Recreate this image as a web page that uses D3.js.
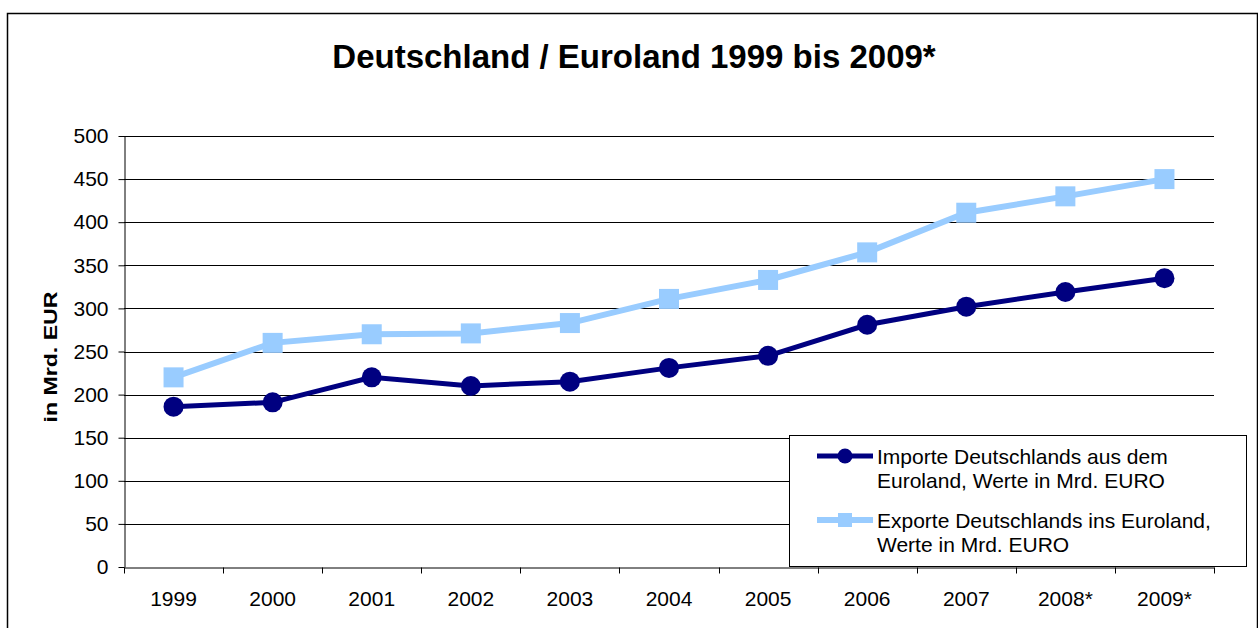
<!DOCTYPE html>
<meta charset="utf-8">
<style>
body { margin: 0; background: #fff; }
svg { display: block; font-family: "Liberation Sans", Arial, sans-serif; }
.axis text { font-size: 21px; fill: #000; }
.axis path, .axis line { stroke: #000; }
.grid line { stroke: #000; stroke-width: 1; }
</style>
<body>
<svg width="1258" height="628"></svg>
<script src="https://d3js.org/d3.v7.min.js"></script>
<script>
var years = ["1999", "2000", "2001", "2002", "2003", "2004", "2005", "2006", "2007", "2008*", "2009*"];
var importe = [186, 191, 220, 210, 215, 231, 245, 281, 302, 319, 335];
var exporte = [220, 260, 270, 271, 283, 311, 333, 365, 411, 430, 450];
var yTicks = [0, 50, 100, 150, 200, 250, 300, 350, 400, 450, 500];

var svg = d3.select("svg");
var margin = {left: 124, top: 136, right: 44, bottom: 61};
var width = 1258 - margin.left - margin.right,
    height = 628 - margin.top - margin.bottom;

// outer frame
svg.append("rect")
    .attr("x", 7.5).attr("y", 13.5)
    .attr("width", 1250).attr("height", 640)
    .attr("fill", "none").attr("stroke", "#000").attr("stroke-width", 1.5);

svg.append("text")
    .attr("x", 634).attr("y", 68)
    .attr("text-anchor", "middle")
    .style("font-size", "33px").style("font-weight", "bold")
    .text("Deutschland / Euroland 1999 bis 2009*");

var x = d3.scaleBand().domain(years).range([0, width]);
var y = d3.scaleLinear().domain([0, 500]).range([height, 0]);

var g = svg.append("g")
    .attr("transform", "translate(" + margin.left + "," + margin.top + ")");

// gridlines
g.append("g").attr("class", "grid")
  .selectAll("line").data(yTicks.filter(function(d) { return d > 0; }))
  .enter().append("line")
    .attr("x1", 0).attr("x2", width)
    .attr("y1", function(d) { return Math.round(y(d)) + 0.5; })
    .attr("y2", function(d) { return Math.round(y(d)) + 0.5; });

// y axis
var ya = g.append("g").attr("class", "axis")
    .attr("transform", "translate(0.5,0)")
    .call(d3.axisLeft(y).tickValues(yTicks).tickSize(6).tickSizeOuter(0).tickPadding(10));

// x axis, ticks on category boundaries
var xa = g.append("g").attr("class", "axis")
    .attr("transform", "translate(0," + (height + 0.5) + ")")
    .call(d3.axisBottom(x).tickSize(0).tickPadding(32));
xa.selectAll(".tick text").attr("dy", "0.32em");
xa.selectAll(".bound")
  .data(d3.range(years.length + 1))
  .enter().append("line")
    .attr("x1", function(i) { return Math.round(i * x.bandwidth()) + 0.5; })
    .attr("x2", function(i) { return Math.round(i * x.bandwidth()) + 0.5; })
    .attr("y1", 0).attr("y2", 6)
    .attr("stroke", "#000");

svg.append("text")
    .attr("transform", "translate(50,357) rotate(-90)")
    .attr("text-anchor", "middle")
    .attr("dy", "0.35em")
    .attr("textLength", 131)
    .attr("lengthAdjust", "spacingAndGlyphs")
    .style("font-size", "19px").style("font-weight", "bold")
    .text("in Mrd. EUR");

var cx = function(d, i) { return x(years[i]) + x.bandwidth() / 2; };
var line = d3.line().x(cx).y(function(d) { return y(d); });

g.append("path").datum(exporte)
    .attr("fill", "none").attr("stroke", "#99ccff").attr("stroke-width", 6)
    .attr("d", line);
g.selectAll(".sq").data(exporte).enter().append("rect")
    .attr("x", function(d, i) { return cx(d, i) - 10; })
    .attr("y", function(d) { return y(d) - 10; })
    .attr("width", 20).attr("height", 20)
    .attr("fill", "#99ccff");

g.append("path").datum(importe)
    .attr("fill", "none").attr("stroke", "#000080").attr("stroke-width", 5)
    .attr("d", line);
g.selectAll(".dot").data(importe).enter().append("circle")
    .attr("cx", cx)
    .attr("cy", function(d) { return y(d); })
    .attr("r", 10)
    .attr("fill", "#000080");

// legend
var lg = svg.append("g").attr("transform", "translate(789,435)");
lg.append("rect")
    .attr("x", 0.5).attr("y", 0.5).attr("width", 457).attr("height", 131)
    .attr("fill", "#fff").attr("stroke", "#000");
var legend = [
  {color: "#000080", shape: "circle", lines: ["Importe Deutschlands aus dem", "Euroland, Werte in Mrd. EURO"], y: 21},
  {color: "#99ccff", shape: "square", lines: ["Exporte Deutschlands ins Euroland,", "Werte in Mrd. EURO"], y: 85}
];
legend.forEach(function(l) {
  lg.append("line").attr("x1", 28).attr("x2", 84).attr("y1", l.y).attr("y2", l.y)
    .attr("stroke", l.color).attr("stroke-width", l.shape === "circle" ? 5 : 6);
  if (l.shape === "circle") {
    lg.append("circle").attr("cx", 56).attr("cy", l.y).attr("r", 7.5).attr("fill", l.color);
  } else {
    lg.append("rect").attr("x", 49).attr("y", l.y - 7).attr("width", 14).attr("height", 14).attr("fill", l.color);
  }
  var t = lg.append("text").attr("x", 88).attr("y", l.y + 8).style("font-size", "21px");
  l.lines.forEach(function(s, k) {
    t.append("tspan").attr("x", 88).attr("dy", k === 0 ? 0 : 24).text(s);
  });
});
</script>
</body>
